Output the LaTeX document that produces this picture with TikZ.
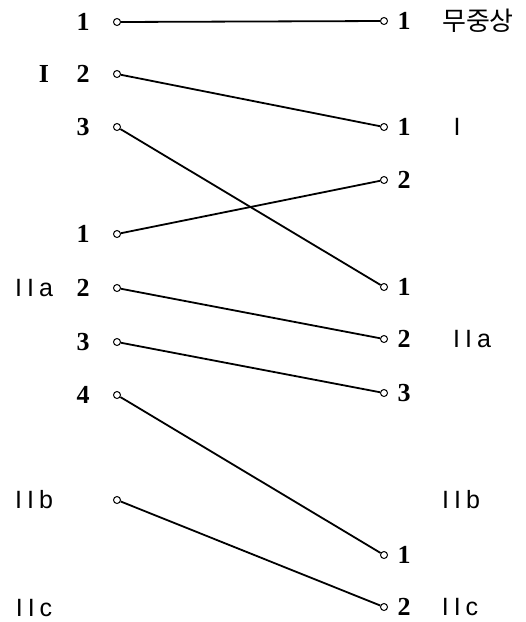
\documentclass[tikz,border=0pt]{standalone}
\usepackage{fontspec}
\usepackage{tikz}
\usetikzlibrary{positioning}
\newfontfamily\hangul{Noto Sans CJK KR}
\newfontfamily\digfont{Liberation Serif}
\newfontfamily\grpfont[LetterSpace=20]{Liberation Sans}

\begin{document}
\begin{tikzpicture}[x=1pt, y=-1pt,
      pin/.style={draw, circle, inner sep=0pt, minimum size=7pt, line width=1pt, fill=white},
      num/.style={font=\fontsize{26}{26}\selectfont\digfont\bfseries, inner sep=0pt},
      grp/.style={font=\fontsize{25}{25}\selectfont\grpfont, inner sep=0pt},
      link/.style={line width=1.8pt}
    ]
      \useasboundingbox (0,0) rectangle (526,622);
      % left pins and numbers
      \foreach \i/\y/\t in {1/22/1, 2/74/2, 3/127/3, 4/234/1, 5/288/2, 6/342/3, 7/395/4, 8/500/{}}{
        \node[pin] (l\i) at (117,\y) {};
        \node[num] (ln\i) at (83,\y) {\t};
      }
      % right pins and numbers
      \foreach \i/\y/\t in {1/21/1, 2/127/1, 3/180/2, 4/287/1, 5/339/2, 6/393/3, 7/555/1, 8/607/2}{
        \node[pin] (r\i) at (384,\y) {};
        \node[num] (rn\i) at (404,\y) {\t};
      }
      % groups
      \node[num] (gI) at (44,74) {I};
      \node[grp] (gIIa) at (34,288) {IIa};
      \node[grp] (gIIb) at (34,500) {IIb};
      \node[grp] (gIIc) at (34,608) {IIc};
      \node[inner sep=0pt, font=\fontsize{26}{26}\selectfont\hangul] (mu) at (478,21) {무중상};
      \node[grp] (hI) at (457,127) {I};
      \node[grp] (hIIa) at (472,339) {IIa};
      \node[grp] (hIIb) at (461,500) {IIb};
      \node[grp] (hIIc) at (460,607) {IIc};
      % connections
      \draw[link] (l1) -- (r1);
      \draw[link] (l2) -- (r2);
      \draw[link] (l3) -- (r4);
      \draw[link] (l4) -- (r3);
      \draw[link] (l5) -- (r5);
      \draw[link] (l6) -- (r6);
      \draw[link] (l7) -- (r7);
      \draw[link] (l8) -- (r8);
    \end{tikzpicture}
\end{document}
